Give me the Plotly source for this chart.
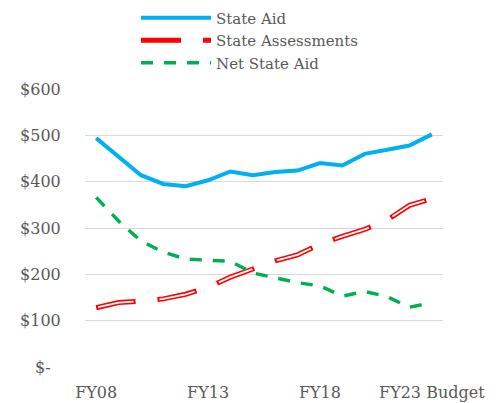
import plotly.graph_objects as go

categories = ["FY08", "FY09", "FY10", "FY11", "FY12", "FY13", "FY14", "FY15",
              "FY16", "FY17", "FY18", "FY19", "FY20", "FY21", "FY22", "FY23 Budget"]
state_aid = [494, 453, 414, 395, 390, 403, 422, 414, 421, 424, 440, 435, 460, 469, 478, 502]
state_assessments = [128, 139, 142, 147, 157, 172, 194, 211, 229, 242, 265, 282, 297, 317, 349, 363]
net_state_aid = [366, 315, 272, 248, 233, 231, 228, 203, 192, 182, 175, 153, 163, 152, 129, 139]

x_tickvals = ["FY08", "FY13", "FY18", "FY23 Budget"]
y_tickvals = [0, 100, 200, 300, 400, 500, 600]
y_ticktext = ["$-\u00a0\u00a0", "$100", "$200", "$300", "$400", "$500", "$600"]

FONT = "DejaVu Serif"
GREY = "#595959"

fig = go.Figure()
fig.add_trace(go.Scatter(x=categories, y=state_aid, name="State Aid", mode="lines",
                         line=dict(color="#00B0F0", width=4)))
fig.add_trace(go.Scatter(x=categories, y=state_assessments, name="State Assessments", mode="lines",
                         line=dict(color="#FF0000", width=5, dash="40px,22px")))
fig.add_trace(go.Scatter(x=categories, y=state_assessments, name="State Assessments inner", mode="lines",
                         showlegend=False, hoverinfo="skip",
                         line=dict(color="#FFFFFF", width=1.8, dash="0px,2px,36px,24px")))
fig.add_trace(go.Scatter(x=categories, y=net_state_aid, name="Net State Aid", mode="lines",
                         line=dict(color="#00B050", width=3.5, dash="12px,11px")))

# the page adds an 8px body margin, so the margins are offset by 8px
fig.update_layout(
    width=501, height=403,
    margin=dict(l=77, r=66, t=81, b=44, autoexpand=False),
    paper_bgcolor="white", plot_bgcolor="white",
    font=dict(family=FONT, size=16, color=GREY),
    legend=dict(orientation="v", xref="container", yref="paper",
                x=0.2555, xanchor="left", y=1.315, yanchor="top",
                font=dict(family=FONT, size=15, color=GREY),
                itemwidth=70, tracegroupgap=0, bgcolor="rgba(0,0,0,0)"),
    xaxis=dict(type="category", tickmode="array", tickvals=x_tickvals,
               range=[-0.5, 15.5],
               showgrid=False, showline=False, zeroline=False, automargin=False,
               ticks="outside", ticklen=11, tickcolor="rgba(0,0,0,0)",
               tickfont=dict(family=FONT, size=16, color=GREY)),
    yaxis=dict(range=[0, 600], tickmode="array", tickvals=y_tickvals, ticktext=y_ticktext,
               showgrid=True, gridcolor="#D9D9D9", gridwidth=1.3, zeroline=False,
               showline=False, ticks="outside", ticklen=20, tickcolor="rgba(0,0,0,0)",
               automargin=False,
               tickfont=dict(family=FONT, size=16, color=GREY)),
)

fig.write_html("out.html")
